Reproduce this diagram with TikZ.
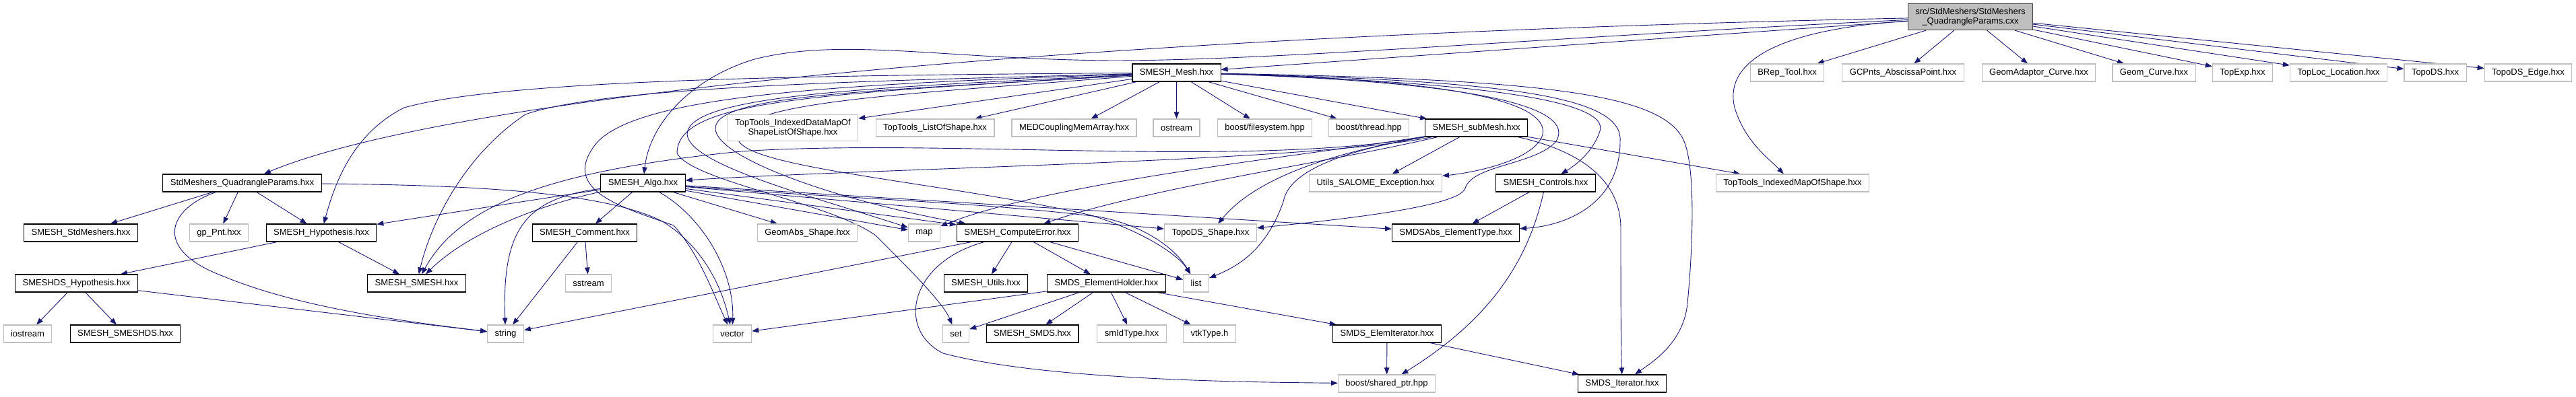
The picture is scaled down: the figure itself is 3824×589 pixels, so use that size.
\documentclass[tikz,border=0pt]{standalone}
\usepackage{fontspec}
\setmainfont{Liberation Sans}
\usepackage{tikz}
\usetikzlibrary{arrows.meta}
\definecolor{edge}{HTML}{191970}
\definecolor{extline}{HTML}{BFBFBF}
\definecolor{srcfill}{HTML}{BFBFBF}
\definecolor{srcline}{HTML}{404040}
\pgfdeclarelayer{back}
\pgfsetlayers{back,main}
\tikzset{
  hdr/.style={draw=black, fill=white, line width=1.1pt, inner xsep=11pt, inner ysep=4pt,
    minimum height=26pt, font=\fontsize{13}{14}\selectfont},
  ext/.style={hdr, draw=extline},
  src/.style={hdr, draw=srcline, fill=srcfill, align=center, inner ysep=6.5pt},
  dep/.style={draw=edge, line width=0.9pt, -{Triangle[length=10pt,width=7.5pt]}}
}

\begin{document}
\begin{tikzpicture}[x=1pt, y=-1pt]
  \useasboundingbox (0,0) rectangle (3824,589);

  % row 1
  \node[src] (cxx) at (2925,25) {src/StdMeshers/StdMeshers\\\_QuadrangleParams.cxx};
  % row 2
  \node[hdr] (Mesh) at (1746.5,108) {SMESH\_Mesh.hxx};
  \node[ext] (BRep) at (2653,108) {BRep\_Tool.hxx};
  \node[ext] (GCPnts) at (2825,108) {GCPnts\_AbscissaPoint.hxx};
  \node[ext] (GeomAdaptor) at (3026.5,108) {GeomAdaptor\_Curve.hxx};
  \node[ext] (GeomCurve) at (3197.5,108) {Geom\_Curve.hxx};
  \node[ext] (TopExp) at (3329,108) {TopExp.hxx};
  \node[ext] (TopLoc) at (3471.5,108) {TopLoc\_Location.hxx};
  \node[ext] (TopoDS) at (3615,108) {TopoDS.hxx};
  \node[ext] (TopoDSEdge) at (3753,108) {TopoDS\_Edge.hxx};
  % row 3
  \node[ext, align=center, inner ysep=6.5pt] (TTIDM) at (1177,190) {TopTools\_IndexedDataMapOf\\ShapeListOfShape.hxx};
  \node[ext] (TTList) at (1388,190) {TopTools\_ListOfShape.hxx};
  \node[ext] (MEDC) at (1594.5,190) {MEDCouplingMemArray.hxx};
  \node[ext] (ostream) at (1746.5,190) {ostream};
  \node[ext] (bfs) at (1877.5,190) {boost/filesystem.hpp};
  \node[ext] (bthread) at (2032,190) {boost/thread.hpp};
  \node[hdr] (subMesh) at (2191.5,190) {SMESH\_subMesh.hxx};
  % row 4
  \node[hdr] (QPh) at (359.5,272) {StdMeshers\_QuadrangleParams.hxx};
  \node[hdr] (Algo) at (954.5,272) {SMESH\_Algo.hxx};
  \node[ext] (Utils) at (2042,272) {Utils\_SALOME\_Exception.hxx};
  \node[hdr] (Controls) at (2294.5,272) {SMESH\_Controls.hxx};
  \node[ext] (TTIMap) at (2661,272) {TopTools\_IndexedMapOfShape.hxx};
  % row 5
  \node[hdr] (StdM) at (120,346) {SMESH\_StdMeshers.hxx};
  \node[ext] (gpPnt) at (325,346) {gp\_Pnt.hxx};
  \node[hdr] (Hyp) at (477,346) {SMESH\_Hypothesis.hxx};
  \node[hdr] (Comment) at (868,346) {SMESH\_Comment.hxx};
  \node[ext] (GeomAbs) at (1198.5,346) {GeomAbs\_Shape.hxx};
  \node[ext] (map) at (1372,346) {map};
  \node[hdr] (CompErr) at (1510.5,346) {SMESH\_ComputeError.hxx};
  \node[ext] (TDSShape) at (1797,346) {TopoDS\_Shape.hxx};
  \node[hdr] (ElemType) at (2161,346) {SMDSAbs\_ElementType.hxx};
  % row 6
  \node[hdr] (DSHyp) at (113.5,421) {SMESHDS\_Hypothesis.hxx};
  \node[hdr] (SMESH) at (618.5,421) {SMESH\_SMESH.hxx};
  \node[ext] (sstream) at (873.5,421) {sstream};
  \node[hdr] (MUtils) at (1463.5,421) {SMESH\_Utils.hxx};
  \node[hdr] (Holder) at (1642.5,421) {SMDS\_ElementHolder.hxx};
  \node[ext] (list) at (1775.5,421) {list};
  % row 7
  \node[ext] (iostream) at (41,496) {iostream};
  \node[hdr] (SMESHDS) at (186,496) {SMESH\_SMESHDS.hxx};
  \node[ext] (string) at (750.5,496) {string};
  \node[ext] (vector) at (1087,496) {vector};
  \node[ext] (set) at (1419,496) {set};
  \node[hdr] (SMDS) at (1532.5,496) {SMESH\_SMDS.hxx};
  \node[ext] (smId) at (1680,496) {smIdType.hxx};
  \node[ext] (vtk) at (1795.5,496) {vtkType.h};
  \node[hdr] (ElemIter) at (2059,496) {SMDS\_ElemIterator.hxx};
  % row 8
  \node[ext] (sharedptr) at (2058.5,570) {boost/shared\_ptr.hpp};
  \node[hdr] (Iterator) at (2408,570) {SMDS\_Iterator.hxx};

  \begin{pgfonlayer}{back}
  % includes of the .cxx
  \draw[dep] (cxx) -- (Mesh);
  \draw[dep] (cxx) .. controls (1500,55) and (650,150) .. (QPh);
  \draw[dep] (cxx) .. controls (2300,55) and (1900,90) .. (1650,90) .. controls (1400,88) and (1250,55) .. (1120,88) .. controls (1030,115) and (965,180) .. (Algo);
  \draw[dep] (cxx) .. controls (2620,45) and (2560,100) .. (2575,160) .. controls (2590,210) and (2625,235) .. (TTIMap);
  \draw[dep] (cxx) -- (BRep);
  \draw[dep] (cxx) -- (GCPnts);
  \draw[dep] (cxx) -- (GeomAdaptor);
  \draw[dep] (cxx) -- (GeomCurve);
  \draw[dep] (cxx) -- (TopExp);
  \draw[dep] (cxx) -- (TopLoc);
  \draw[dep] (cxx) -- (TopoDS);
  \draw[dep] (cxx) -- (TopoDSEdge);

  % SMESH_Mesh.hxx
  \draw[dep] (Mesh) -- (TTIDM);
  \draw[dep] (Mesh) -- (TTList);
  \draw[dep] (Mesh) -- (MEDC);
  \draw[dep] (Mesh) -- (ostream);
  \draw[dep] (Mesh) -- (bfs);
  \draw[dep] (Mesh) -- (bthread);
  \draw[dep] (Mesh) -- (subMesh);
  \draw[dep] (Mesh) .. controls (1200,112) and (750,118) .. (600,160) .. controls (520,200) and (495,280) .. (Hyp);
  \draw[dep] (Mesh) .. controls (1300,120) and (900,128) .. (780,170) .. controls (690,230) and (640,330) .. (SMESH);
  \draw[dep] (Mesh) .. controls (1250,125) and (930,140) .. (880,220) .. controls (835,285) and (930,310) .. (1000,335) .. controls (1040,380) and (1060,440) .. (vector);
  \draw[dep] (Mesh) .. controls (1300,130) and (1020,140) .. (1020,200) .. controls (1025,245) and (1200,290) .. (map);
  \draw[dep] (Mesh) .. controls (1300,135) and (1065,140) .. (1062,190) .. controls (1060,235) and (1250,300) .. (CompErr);
  \draw[dep] (Mesh) .. controls (1200,140) and (1005,150) .. (1005,228) .. controls (1030,270) and (1230,300) .. (1300,350) .. controls (1350,400) and (1400,450) .. (set);
  \draw[dep] (Mesh) .. controls (1350,140) and (1090,150) .. (1095,205) .. controls (1100,250) and (1400,270) .. (1620,320) .. controls (1700,345) and (1750,380) .. (list);
  \draw[dep] (Mesh) .. controls (2150,118) and (2300,150) .. (2290,200) .. controls (2280,235) and (2200,255) .. (Utils);
  \draw[dep] (Mesh) .. controls (2200,122) and (2340,160) .. (2310,210) .. controls (2280,245) and (2185,245) .. (2175,280) .. controls (2165,310) and (1950,330) .. (TDSShape);
  \draw[dep] (Mesh) .. controls (2200,122) and (2390,150) .. (2375,195) .. controls (2365,225) and (2340,245) .. (Controls);
  \draw[dep] (Mesh) .. controls (2250,120) and (2410,145) .. (2405,210) .. controls (2405,300) and (2330,335) .. (ElemType);
  \draw[dep] (Mesh) .. controls (2300,118) and (2470,140) .. (2500,210) .. controls (2520,260) and (2510,400) .. (2505,450) .. controls (2500,510) and (2450,540) .. (Iterator);

  % SMESH_subMesh.hxx
  \draw[dep] (subMesh) -- (Utils);
  \draw[dep] (subMesh) -- (TTIMap);
  \draw[dep] (subMesh) .. controls (2350,225) and (2406,270) .. (2406,340) .. controls (2406,420) and (2406,500) .. (Iterator);
  \draw[dep] (subMesh) .. controls (1950,240) and (1300,250) .. (Algo);
  \draw[dep] (subMesh) .. controls (1850,250) and (1400,205) .. (1100,225) .. controls (800,255) and (680,310) .. (SMESH);
  \draw[dep] (subMesh) .. controls (1950,230) and (1560,270) .. (map);
  \draw[dep] (subMesh) .. controls (1980,240) and (1700,280) .. (CompErr);
  \draw[dep] (subMesh) .. controls (2050,215) and (1880,245) .. (TDSShape);
  \draw[dep] (subMesh) .. controls (2050,215) and (1915,240) .. (1905,300) .. controls (1880,370) and (1840,395) .. (list);

  % StdMeshers_QuadrangleParams.hxx
  \draw[dep] (QPh) -- (StdM);
  \draw[dep] (QPh) -- (gpPnt);
  \draw[dep] (QPh) -- (Hyp);
  \draw[dep] (QPh) .. controls (250,310) and (225,370) .. (330,410) .. controls (450,460) and (620,480) .. (string);
  \draw[dep] (QPh) .. controls (700,275) and (900,285) .. (985,330) .. controls (1040,365) and (1070,420) .. (vector);

  % SMESH_Algo.hxx
  \draw[dep] (Algo) -- (Hyp);
  \draw[dep] (Algo) .. controls (820,300) and (700,340) .. (SMESH);
  \draw[dep] (Algo) -- (Comment);
  \draw[dep] (Algo) .. controls (780,295) and (745,340) .. (string);
  \draw[dep] (Algo) .. controls (1040,320) and (1090,400) .. (vector);
  \draw[dep] (Algo) -- (GeomAbs);
  \draw[dep] (Algo) -- (map);
  \draw[dep] (Algo) -- (CompErr);
  \draw[dep] (Algo) -- (TDSShape);
  \draw[dep] (Algo) -- (ElemType);
  \draw[dep] (Algo) .. controls (1250,295) and (1450,300) .. (1630,322) .. controls (1700,335) and (1745,370) .. (list);

  % hypotheses
  \draw[dep] (Hyp) -- (DSHyp);
  \draw[dep] (Hyp) -- (SMESH);
  \draw[dep] (DSHyp) -- (iostream);
  \draw[dep] (DSHyp) -- (SMESHDS);
  \draw[dep] (DSHyp) -- (string);
  \draw[dep] (Comment) -- (string);
  \draw[dep] (Comment) -- (sstream);

  % SMESH_ComputeError.hxx
  \draw[dep] (CompErr) -- (string);
  \draw[dep] (CompErr) -- (MUtils);
  \draw[dep] (CompErr) -- (Holder);
  \draw[dep] (CompErr) -- (list);
  \draw[dep] (CompErr) .. controls (1350,390) and (1330,490) .. (1400,525) .. controls (1550,565) and (1850,568) .. (sharedptr);

  % SMDS side
  \draw[dep] (Holder) -- (vector);
  \draw[dep] (Holder) -- (set);
  \draw[dep] (Holder) -- (SMDS);
  \draw[dep] (Holder) -- (smId);
  \draw[dep] (Holder) -- (vtk);
  \draw[dep] (Holder) -- (ElemIter);
  \draw[dep] (ElemIter) -- (sharedptr);
  \draw[dep] (ElemIter) -- (Iterator);
  \draw[dep] (Controls) -- (ElemType);
  \draw[dep] (Controls) .. controls (2270,380) and (2220,470) .. (sharedptr);
  \end{pgfonlayer}
\end{tikzpicture}
\end{document}
